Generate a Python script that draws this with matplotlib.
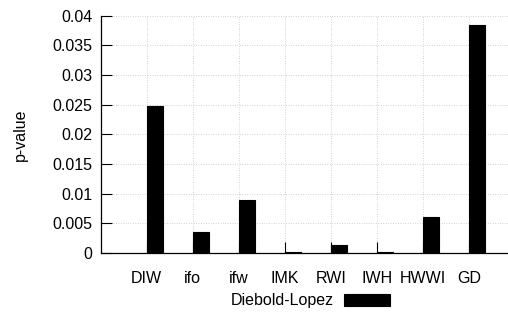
import matplotlib
matplotlib.use("Agg")
import matplotlib.pyplot as plt
import numpy as np

categories = ["DIW", "ifo", "ifw", "IMK", "RWI", "IWH", "HWWI", "GD"]
pvalues = [0.0247, 0.0036, 0.0090, 0.0001, 0.00135, 0.0001, 0.0060, 0.0385]
series_name = "Diebold-Lopez"
yticks = [0, 0.005, 0.01, 0.015, 0.02, 0.025, 0.03, 0.035, 0.04]
ytick_labels = ["0", "0.005", "0.01", "0.015", "0.02", "0.025", "0.03", "0.035", "0.04"]

plt.rcParams['font.family'] = ['Liberation Sans', 'DejaVu Sans']
plt.rcParams['font.size'] = 11.5

fig = plt.figure(figsize=(5.08, 3.13), dpi=100)
ax = fig.add_axes([101/508, 1-253/313, 1-101/508, (253-15.7)/313])

x = np.arange(len(categories))
bars = ax.bar(x, pvalues, width=0.36, align='edge', color='black',
              edgecolor='black', linewidth=0.8, label=series_name, zorder=3)

ax.set_xlim(-0.99, 7.85)
ax.set_ylim(0, 0.04)
ax.set_xticks(x)
ax.set_xticklabels(categories)
ax.set_yticks(yticks)
ax.set_yticklabels(ytick_labels)
ax.tick_params(axis='both', direction='in', length=8, width=0.8, color='black')
ax.tick_params(axis='x', pad=13)
ax.tick_params(axis='y', pad=6)

ax.grid(True, linestyle=(0, (1, 2.5)), color='#aaaaaa', linewidth=0.5, zorder=0)
ax.set_axisbelow(True)

for s in ['top', 'right']:
    ax.spines[s].set_visible(False)
for s in ['left', 'bottom']:
    ax.spines[s].set_linewidth(0.9)

ax.set_ylabel("p-value")
ax.yaxis.set_label_coords(-73/407, 0.5)

leg = ax.legend(loc='center left', bbox_to_anchor=(231/508, 1-301/313), bbox_transform=fig.transFigure,
                frameon=False, markerfirst=False, handlelength=2.9, handleheight=0.7,
                handletextpad=0.6, borderpad=0, borderaxespad=0)

fig.savefig("out.png", dpi=100)
